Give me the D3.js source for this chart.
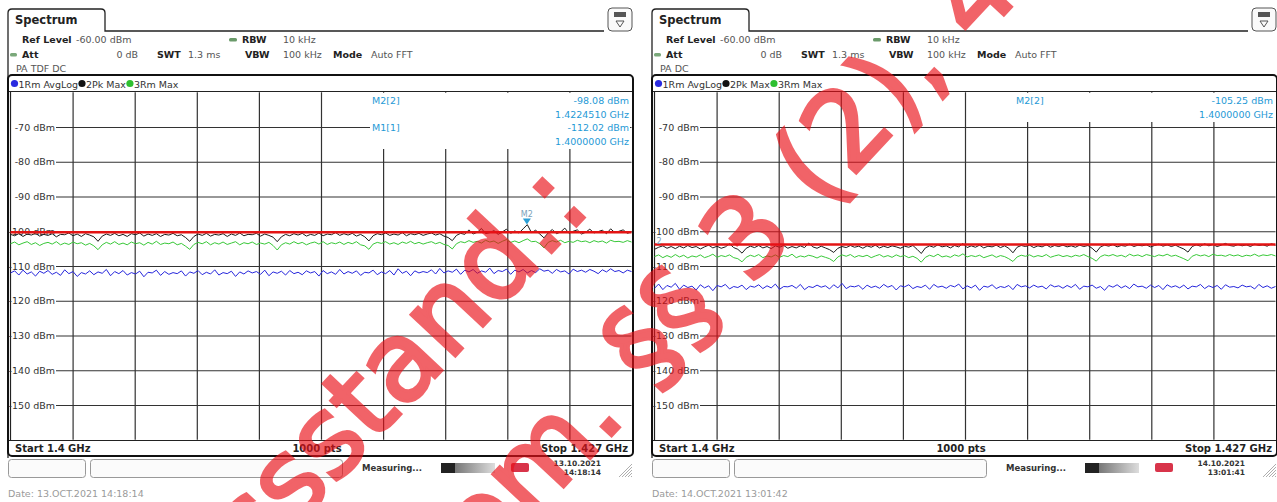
<!DOCTYPE html>
<html>
<head>
<meta charset="utf-8">
<script src="https://cdn.jsdelivr.net/npm/d3@7"></script>
<style>
  body { margin: 0; background: #fff; }
  text { font-family: "DejaVu Sans", sans-serif; }
</style>
</head>
<body>
<div id="chart"></div>
<script>
// sweep settings shared by both screens
const freqStart = 1.4;
const freqStop = 1.427;
const refLevel = -60;
const bottomLevel = -160;
const dbTicks = [-70, -80, -90, -100, -110, -120, -130, -140, -150];
const freqDivs = [1.4027, 1.4054, 1.4081, 1.4108, 1.4135, 1.4162, 1.4189, 1.4216, 1.4243];

// left screen (13.10.2021), traces
const leftAvgLog = [
  -112.0,-111.4,-112.6,-111.2,-112.3,-111.7,-112.9,-111.5,-112.1,-111.3,
  -112.4,-111.8,-112.7,-111.1,-112.2,-111.6,-113.0,-111.9,-112.3,-111.4,
  -112.5,-111.7,-112.1,-111.0,-112.8,-111.6,-112.2,-111.3,-112.6,-111.9,
  -112.3,-111.5,-113.1,-111.8,-112.0,-111.2,-112.7,-111.6,-112.4,-111.9,
  -112.2,-111.4,-112.9,-111.7,-112.1,-111.3,-112.5,-111.8,-112.3,-111.1,
  -112.6,-111.9,-112.2,-111.5,-113.0,-111.7,-112.3,-111.4,-112.0,-111.6,
  -112.4,-111.2,-112.8,-111.7,-112.1,-111.5,-112.6,-111.3,-112.2,-111.8,
  -112.5,-111.4,-112.0,-111.6,-112.9,-111.3,-112.2,-111.7,-112.4,-111.0,
  -112.3,-111.6,-112.1,-111.4,-112.7,-111.8,-112.0,-111.2,-112.5,-111.7,
  -112.2,-111.3,-112.6,-110.8,-112.1,-111.5,-112.8,-111.4,-112.0,-111.6,
  -111.9,-111.1,-112.3,-110.7,-112.0,-111.4,-111.8,-110.9,-112.4,-111.2,
  -111.7,-111.0,-112.1,-111.4,-111.8,-110.6,-112.2,-111.3,-111.6,-110.9,
  -112.4,-111.2,-111.7,-111.0,-112.0,-111.3,-111.9,-110.8,-111.5,-111.2,
  -112.1,-111.0,-111.7,-111.4,-112.3,-110.9,-111.6,-111.2,-111.8,-111.0,
  -111.5,-112.2,-111.1,-111.7,-110.8,-111.6,-111.3,-112.0,-111.2,-111.6
];
const leftPkMax = [
  -100.9,-101.3,-100.7,-101.5,-100.8,-101.1,-100.6,-101.4,-100.9,-101.2,
  -100.7,-101.6,-100.9,-101.0,-100.5,-101.3,-100.8,-101.5,-100.7,-101.1,
  -101.6,-102.9,-101.4,-100.8,-101.2,-100.6,-101.3,-100.9,-101.5,-100.7,
  -101.0,-100.5,-101.4,-100.8,-101.2,-100.7,-101.5,-100.9,-101.1,-100.6,
  -101.3,-101.0,-101.8,-102.9,-101.5,-100.8,-101.2,-100.6,-101.4,-100.9,
  -101.1,-100.7,-101.5,-100.8,-101.2,-100.5,-101.3,-100.9,-101.0,-100.6,
  -101.4,-100.8,-101.2,-101.7,-103.0,-101.6,-100.9,-101.3,-100.7,-101.1,
  -100.6,-101.4,-100.9,-101.2,-100.5,-101.3,-100.8,-101.0,-100.4,-101.2,
  -100.7,-101.1,-100.6,-101.4,-100.9,-101.6,-102.8,-101.3,-100.7,-101.0,
  -100.5,-101.2,-100.8,-101.1,-100.4,-101.3,-100.7,-101.0,-100.6,-101.2,
  -100.8,-100.5,-101.1,-100.7,-101.4,-101.8,-102.7,-101.2,-100.6,-100.9,
  -99.6,-100.8,-100.3,-99.2,-100.7,-100.4,-99.8,-100.9,-100.2,-99.4,
  -100.6,-99.9,-100.5,-99.3,-98.1,-100.4,-99.7,-100.8,-101.9,-100.5,
  -99.5,-100.7,-100.2,-99.1,-100.6,-100.0,-99.6,-100.8,-100.3,-99.4,
  -100.5,-100.1,-99.7,-100.7,-99.3,-100.4,-100.0,-99.6,-100.6,-100.2
];
const leftRmMax = [
  -103.6,-103.1,-103.9,-103.4,-103.0,-103.8,-103.3,-104.1,-103.5,-103.2,
  -103.7,-103.0,-103.9,-103.4,-103.8,-103.1,-103.6,-103.3,-104.0,-103.5,
  -104.2,-105.3,-103.9,-103.2,-103.7,-103.0,-103.8,-103.4,-103.9,-103.1,
  -103.6,-103.3,-104.0,-103.2,-103.7,-102.9,-103.8,-103.4,-103.6,-103.1,
  -103.9,-103.5,-104.3,-105.2,-103.8,-103.2,-103.6,-103.0,-103.9,-103.3,
  -103.7,-103.1,-103.8,-103.4,-103.0,-103.9,-103.3,-103.6,-103.1,-103.8,
  -103.4,-103.7,-103.2,-104.1,-105.4,-103.9,-103.3,-103.7,-103.0,-103.6,
  -103.2,-103.9,-103.4,-103.1,-103.7,-103.0,-103.8,-103.3,-103.6,-103.1,
  -103.8,-103.2,-103.6,-103.0,-103.9,-104.2,-105.2,-103.7,-103.2,-103.5,
  -103.0,-103.7,-103.3,-103.8,-103.1,-103.5,-102.9,-103.6,-103.2,-103.7,
  -103.3,-103.0,-103.6,-103.2,-103.8,-104.1,-105.1,-103.6,-103.0,-103.3,
  -102.7,-103.2,-102.9,-103.4,-102.6,-103.1,-102.8,-103.5,-102.9,-102.4,
  -103.2,-102.8,-103.3,-102.7,-102.2,-103.0,-102.9,-103.6,-104.8,-103.2,
  -102.7,-103.1,-102.6,-103.3,-102.9,-103.2,-102.6,-103.0,-102.8,-103.3,
  -102.7,-103.1,-102.8,-103.4,-102.6,-103.0,-102.9,-103.2,-102.7,-103.1
];
const leftDisplayLine = -100.3;

// right screen (14.10.2021)
const rightAvgLog = [
  -116.4,-115.2,-116.8,-115.6,-116.1,-115.0,-116.7,-115.5,-116.2,-115.8,
  -116.9,-115.4,-116.3,-115.7,-117.1,-115.6,-116.0,-115.3,-116.6,-115.9,
  -116.2,-115.5,-116.8,-115.8,-116.1,-115.4,-116.5,-115.7,-116.3,-115.2,
  -116.7,-115.9,-116.0,-115.6,-116.4,-115.3,-116.8,-115.9,-116.2,-115.5,
  -116.1,-115.7,-116.6,-115.4,-116.3,-115.0,-116.5,-115.8,-116.0,-115.6,
  -116.7,-115.5,-116.2,-115.8,-116.4,-115.3,-116.1,-115.6,-116.9,-115.7,
  -116.0,-115.4,-116.5,-115.9,-116.2,-115.5,-116.7,-115.3,-116.1,-115.8,
  -116.4,-115.6,-116.0,-115.2,-116.6,-115.7,-116.3,-115.5,-117.0,-115.8,
  -116.1,-115.4,-116.5,-115.9,-116.2,-115.6,-116.8,-115.3,-116.0,-115.7,
  -116.3,-115.5,-116.1,-115.8,-116.6,-115.4,-116.0,-115.7,-116.4,-115.6,
  -116.2,-115.3,-116.7,-115.8,-116.0,-115.5,-116.4,-115.9,-117.0,-115.6,
  -116.1,-115.4,-116.3,-115.7,-116.5,-115.2,-116.0,-115.8,-116.4,-115.5,
  -116.2,-115.6,-116.8,-115.4,-116.1,-115.7,-116.3,-115.5,-116.6,-115.8,
  -116.0,-115.3,-116.5,-115.7,-116.2,-115.6,-116.7,-115.4,-116.1,-115.9,
  -116.3,-115.5,-116.0,-115.8,-116.6,-115.3,-116.2,-115.7,-116.4,-115.9
];
const rightPkMax = [
  -105.2,-104.6,-104.2,-104.9,-104.4,-105.0,-104.3,-104.8,-104.1,-104.7,
  -104.4,-105.1,-104.5,-104.0,-104.8,-104.3,-104.9,-104.5,-103.6,-104.7,
  -105.2,-106.3,-104.9,-104.3,-104.7,-104.1,-104.8,-104.4,-105.0,-104.2,
  -104.6,-104.1,-104.9,-104.4,-104.8,-104.2,-104.7,-103.4,-104.5,-104.9,
  -104.3,-104.8,-105.3,-106.1,-104.9,-104.4,-104.7,-104.1,-104.6,-104.3,
  -104.9,-104.2,-104.6,-104.0,-104.8,-104.3,-104.7,-104.2,-104.5,-104.9,
  -104.3,-104.6,-104.1,-105.2,-106.4,-104.8,-104.2,-104.6,-103.9,-104.5,
  -104.2,-104.8,-104.1,-104.5,-103.5,-104.7,-104.2,-104.6,-104.0,-104.8,
  -104.3,-104.5,-104.0,-104.7,-104.2,-104.9,-106.2,-104.6,-104.1,-104.4,
  -104.0,-104.7,-104.2,-104.5,-103.9,-104.6,-104.1,-104.4,-104.0,-104.5,
  -104.2,-104.6,-104.0,-104.4,-104.1,-104.9,-106.0,-104.5,-104.0,-104.3,
  -103.8,-104.5,-104.1,-104.3,-103.7,-104.4,-104.0,-104.2,-103.9,-104.5,
  -104.1,-103.7,-104.3,-103.9,-104.4,-104.0,-104.6,-105.1,-106.0,-104.4,
  -103.9,-104.3,-103.6,-104.2,-103.8,-104.4,-104.0,-103.5,-104.1,-104.3,
  -103.8,-104.2,-103.9,-104.4,-103.7,-104.1,-103.9,-104.3,-103.6,-104.0
];
const rightRmMax = [
  -107.3,-106.8,-107.6,-107.0,-107.5,-106.7,-107.4,-106.9,-107.7,-107.1,
  -107.4,-106.8,-107.6,-107.2,-106.6,-107.5,-107.0,-107.3,-106.8,-107.6,
  -107.9,-108.8,-107.5,-106.9,-107.3,-106.7,-107.6,-107.1,-107.4,-106.8,
  -107.5,-107.0,-107.3,-106.6,-107.6,-107.1,-107.4,-106.9,-107.2,-107.7,
  -107.1,-107.5,-107.9,-108.7,-107.4,-106.8,-107.2,-106.7,-107.5,-107.0,
  -107.3,-106.9,-107.6,-107.1,-106.7,-107.4,-107.0,-107.5,-106.8,-107.3,
  -107.0,-107.6,-107.2,-107.8,-108.9,-107.5,-106.9,-107.3,-106.6,-107.4,
  -107.1,-107.5,-106.8,-107.2,-106.5,-107.4,-107.0,-107.3,-106.9,-107.6,
  -107.2,-106.8,-107.5,-107.0,-107.3,-107.9,-108.7,-107.4,-106.9,-107.2,
  -106.8,-107.4,-107.0,-107.3,-106.7,-107.5,-107.1,-106.8,-107.3,-107.0,
  -107.4,-106.9,-107.2,-106.7,-107.3,-107.8,-108.6,-107.3,-106.8,-107.1,
  -106.7,-107.2,-106.9,-107.4,-106.6,-107.1,-106.8,-107.3,-106.7,-107.0,
  -107.3,-106.8,-107.1,-106.6,-107.2,-106.9,-107.4,-107.9,-108.5,-107.2,
  -106.7,-107.1,-106.8,-107.3,-106.6,-107.0,-106.9,-107.2,-106.7,-107.1,
  -106.8,-107.3,-106.9,-107.1,-106.6,-107.2,-106.8,-107.0,-106.7,-107.1
];
const rightDisplayLine = -103.8;

const leftMarkers = [
  {name: "M2[2]", level: "-98.08 dBm", freq: "1.4224510 GHz"},
  {name: "M1[1]", level: "-112.02 dBm", freq: "1.4000000 GHz"}
];
const rightMarkers = [
  {name: "M2[2]", level: "-105.25 dBm", freq: "1.4000000 GHz"}
];

const panels = [
  {dx: 0, tdf: "PA TDF DC", traces: [leftAvgLog, leftRmMax, leftPkMax], line: leftDisplayLine,
   markers: leftMarkers, m2: {f: 1.422451, db: -98.08, label: "M2"},
   date: "13.10.2021", time: "14:18:14", stamp: "Date: 13.OCT.2021  14:18:14"},
  {dx: 644, tdf: "PA DC", traces: [rightAvgLog, rightRmMax, rightPkMax], line: rightDisplayLine,
   markers: rightMarkers, m2: {f: 1.4, db: -105.25, label: "2"},
   date: "14.10.2021", time: "13:01:41", stamp: "Date: 14.OCT.2021  13:01:42"}
];

const traceColors = ["#2626dc", "#38c838", "#1c1c1c"];
const legendItems = [
  {label: "1Rm AvgLog", color: "#2a2ae0"},
  {label: "2Pk Max", color: "#111"},
  {label: "3Rm Max", color: "#2fbf2f"}
];

// watermark lines (partly outside the picture)
const wmLineA = "Messstand.:";
const wmLineB = "gem. §§ 3 (2), 4";
const wmAngle = -47;

const W = 1277, H = 502;
const svg = d3.select("#chart").append("svg")
  .attr("width", W).attr("height", H);
svg.append("rect").attr("width", W).attr("height", H).attr("fill", "#fff");

// plot area inside each screen
const plotX0 = 10.5, plotX1 = 631.5;
const plotY0 = 92.25, plotY1 = 439.75;

panels.forEach(p => drawPanel(p));
drawWatermark();

function drawPanel(p) {
  let g = svg.append("g").attr("transform", `translate(${p.dx},0)`);

  let x = d3.scaleLinear().domain([freqStart, freqStop]).range([plotX0, plotX1]);
  let y = d3.scaleLinear().domain([bottomLevel, refLevel]).range([plotY1, plotY0]);

  // tab + header frame
  g.append("path")
    .attr("d", "M8,458 L8,13 Q8,9 12,9 L101,9 Q105,9 105,13 L105,31 L604,31")
    .attr("fill", "none").attr("stroke", "#222").attr("stroke-width", 1.3);
  g.append("text").attr("x", 15).attr("y", 24)
    .attr("font-size", 11.5).attr("font-weight", "bold").attr("fill", "#222")
    .text("Spectrum");

  // little icon at top right
  g.append("rect").attr("x", 608).attr("y", 8).attr("width", 24).attr("height", 23)
    .attr("rx", 4).attr("fill", "#fafafa").attr("stroke", "#555");
  g.append("rect").attr("x", 614).attr("y", 12).attr("width", 12).attr("height", 5)
    .attr("fill", "#555");
  g.append("path").attr("d", "M616,21 L624,21 L620,27 Z")
    .attr("fill", "none").attr("stroke", "#555");

  // settings header
  let hdr = [
    {t: "Ref Level", x: 22, y: 43, b: true}, {t: "-60.00 dBm", x: 76, y: 43},
    {t: "RBW", x: 242, y: 43, b: true}, {t: "10 kHz", x: 283, y: 43},
    {t: "Att", x: 22, y: 58, b: true}, {t: "0 dB", x: 138, y: 58, end: true},
    {t: "SWT", x: 157, y: 58, b: true}, {t: "1.3 ms", x: 188, y: 58},
    {t: "VBW", x: 245, y: 58, b: true}, {t: "100 kHz", x: 283, y: 58},
    {t: "Mode", x: 333, y: 58, b: true}, {t: "Auto FFT", x: 371, y: 58},
    {t: p.tdf, x: 16, y: 72}
  ];
  g.selectAll(".hdr").data(hdr).enter().append("text")
    .attr("x", d => d.x).attr("y", d => d.y)
    .attr("font-size", 9.5)
    .attr("font-weight", d => d.b ? "bold" : "normal")
    .attr("fill", d => d.b ? "#222" : "#555")
    .attr("text-anchor", d => d.end ? "end" : "start")
    .text(d => d.t);
  g.append("rect").attr("x", 229).attr("y", 38).attr("width", 8).attr("height", 3.5)
    .attr("rx", 1.5).attr("fill", "#6a9a6a");
  g.append("rect").attr("x", 10).attr("y", 53).attr("width", 7).attr("height", 3.5)
    .attr("rx", 1.5).attr("fill", "#7aa87a");

  // diagram box
  g.append("rect").attr("x", 8).attr("y", 75).attr("width", 625).attr("height", 381)
    .attr("rx", 4).attr("fill", "#fff").attr("stroke", "#111").attr("stroke-width", 2);

  // trace legend
  let lx = 11;
  legendItems.forEach(it => {
    g.append("circle").attr("cx", lx + 3.5).attr("cy", 83.5).attr("r", 3.6).attr("fill", it.color);
    let t = g.append("text").attr("x", lx + 7.5).attr("y", 87.5)
      .attr("font-size", 9.5).attr("fill", "#333").text(it.label);
    lx += 7.5 + t.node().getComputedTextLength() + 0.5;
  });

  g.append("line").attr("x1", 9).attr("x2", 632).attr("y1", 91.5).attr("y2", 91.5)
    .attr("stroke", "#222").attr("stroke-width", 1.2);
  g.append("line").attr("x1", 9).attr("x2", 632).attr("y1", 440.5).attr("y2", 440.5)
    .attr("stroke", "#222").attr("stroke-width", 1.2);
  g.append("line").attr("x1", plotX0).attr("x2", plotX0).attr("y1", 91.5).attr("y2", 440.5)
    .attr("stroke", "#222").attr("stroke-width", 1.2);

  // vertical grid
  let gx = g.append("g").attr("transform", `translate(0,${plotY1})`)
    .call(d3.axisBottom(x).tickValues(freqDivs).tickSize(-(plotY1 - plotY0)).tickFormat(""));
  gx.select(".domain").remove();
  gx.selectAll("line").attr("stroke", "#333").attr("stroke-width", 1.2);

  // level grid with labels
  let gy = g.append("g").attr("transform", "translate(56,0)")
    .call(d3.axisLeft(y).tickValues(dbTicks).tickSize(-(plotX1 - 56)).tickPadding(1)
      .tickFormat(d => d + " dBm"));
  gy.select(".domain").remove();
  gy.selectAll("line").attr("stroke", "#333").attr("stroke-width", 1.2);
  gy.selectAll("text").attr("font-size", 9.5).attr("fill", "#333")
    .attr("font-family", "DejaVu Sans");

  // marker table, painted over the grid
  let mh = p.markers.length * 27 + 2;
  g.append("rect").attr("x", 370).attr("y", 93).attr("width", 260).attr("height", mh)
    .attr("fill", "#fff");
  p.markers.forEach((m, i) => {
    let yy = 104 + i * 27;
    g.append("text").attr("x", 372).attr("y", yy).attr("font-size", 9.5)
      .attr("fill", "#1f9ad6").text(m.name);
    g.append("text").attr("x", 629).attr("y", yy).attr("font-size", 9.5)
      .attr("text-anchor", "end").attr("fill", "#1f9ad6").text(m.level);
    g.append("text").attr("x", 629).attr("y", yy + 13.5).attr("font-size", 9.5)
      .attr("text-anchor", "end").attr("fill", "#1f9ad6").text(m.freq);
  });

  // traces
  let n = p.traces[0].length;
  let idx = d3.scaleLinear().domain([0, n - 1]).range([freqStart, freqStop]);
  let line = d3.line().x((d, i) => x(idx(i))).y(d => y(d));
  p.traces.forEach((tr, k) => {
    g.append("path").datum(tr).attr("d", line)
      .attr("fill", "none").attr("stroke", traceColors[k]).attr("stroke-width", 1);
  });

  // display line
  g.append("line").attr("x1", plotX0).attr("x2", plotX1)
    .attr("y1", y(p.line)).attr("y2", y(p.line))
    .attr("stroke", "#e31414").attr("stroke-width", 2.4);

  // M2 marker symbol
  if (p.m2.f > freqStart) {
    let mx = x(p.m2.f), my = y(p.m2.db);
    g.append("path").attr("d", `M${mx - 4},${my - 6} L${mx + 4},${my - 6} L${mx},${my} Z`)
      .attr("fill", "#2a9fd6");
    g.append("text").attr("x", mx).attr("y", my - 8).attr("font-size", 8)
      .attr("text-anchor", "middle").attr("fill", "#7a9fba").text(p.m2.label);
  } else {
    g.append("text").attr("x", plotX0 + 2).attr("y", y(p.m2.db) - 5).attr("font-size", 8)
      .attr("fill", "#7a9fba").text(p.m2.label);
  }

  // sweep info row
  g.append("text").attr("x", 15).attr("y", 452).attr("font-size", 10)
    .attr("font-weight", "bold").attr("fill", "#222").text("Start 1.4 GHz");
  g.append("text").attr("x", 317).attr("y", 452).attr("font-size", 10)
    .attr("font-weight", "bold").attr("fill", "#222").attr("text-anchor", "middle").text("1000 pts");
  g.append("text").attr("x", 628).attr("y", 452).attr("font-size", 10)
    .attr("font-weight", "bold").attr("fill", "#222").attr("text-anchor", "end").text("Stop 1.427 GHz");

  // status bar
  g.append("rect").attr("x", 8.5).attr("y", 459.5).attr("width", 77).attr("height", 18)
    .attr("rx", 3).attr("fill", "#fbfbfb").attr("stroke", "#999");
  g.append("rect").attr("x", 90.5).attr("y", 459.5).attr("width", 252).attr("height", 18)
    .attr("rx", 3).attr("fill", "#fbfbfb").attr("stroke", "#999");
  g.append("text").attr("x", 362).attr("y", 471).attr("font-size", 8.5)
    .attr("font-weight", "bold").attr("fill", "#333").text("Measuring...");
  g.append("rect").attr("x", 441).attr("y", 463).attr("width", 14).attr("height", 10).attr("fill", "#222");
  let grad = g.append("defs").append("linearGradient").attr("id", "prog" + p.dx);
  grad.append("stop").attr("offset", "0%").attr("stop-color", "#777");
  grad.append("stop").attr("offset", "100%").attr("stop-color", "#ddd");
  g.append("rect").attr("x", 455).attr("y", 463).attr("width", 40).attr("height", 10)
    .attr("fill", `url(#prog${p.dx})`);
  g.append("rect").attr("x", 511).attr("y", 463).attr("width", 18).attr("height", 9)
    .attr("rx", 2).attr("fill", "#d8344a");
  g.append("text").attr("x", 601).attr("y", 466).attr("font-size", 7.5)
    .attr("font-weight", "bold").attr("fill", "#333").attr("text-anchor", "end").text(p.date);
  g.append("text").attr("x", 601).attr("y", 475).attr("font-size", 7.5)
    .attr("font-weight", "bold").attr("fill", "#333").attr("text-anchor", "end").text(p.time);
  for (let k = 0; k < 5; k++) {
    g.append("line").attr("x1", 619 + k * 3).attr("y1", 477).attr("x2", 632).attr("y2", 464 + k * 3)
      .attr("stroke", "#999").attr("stroke-width", 0.8);
  }

  g.append("text").attr("x", 8).attr("y", 497).attr("font-size", 9.5)
    .attr("font-family", "DejaVu Sans Mono").attr("fill", "#9a9a9a").text(p.stamp);
}

function drawWatermark() {
  let wm = svg.append("g").attr("opacity", 0.65)
    .attr("fill", "#ea1018").attr("stroke", "#ea1018").attr("stroke-width", 3.5)
    .attr("font-family", "Liberation Sans, Arial, sans-serif").attr("font-size", 110);
  // anchor each line on one glyph seen in the picture
  placeWatermark(wm, wmLineA, "Messstan", "d", 496, 312);
  placeWatermark(wm, wmLineB, "gem. §§ ", "3", 750, 287);
}

function placeWatermark(g, txt, prefix, glyph, ox, oy) {
  let probe = g.append("text").text(prefix + glyph);
  let w = probe.node().getComputedTextLength();
  probe.text(glyph);
  w -= probe.node().getComputedTextLength();
  probe.remove();
  let a = wmAngle * Math.PI / 180;
  g.append("text")
    .attr("transform", `translate(${ox - w * Math.cos(a)},${oy - w * Math.sin(a)}) rotate(${wmAngle})`)
    .text(txt);
}
</script>
</body>
</html>
